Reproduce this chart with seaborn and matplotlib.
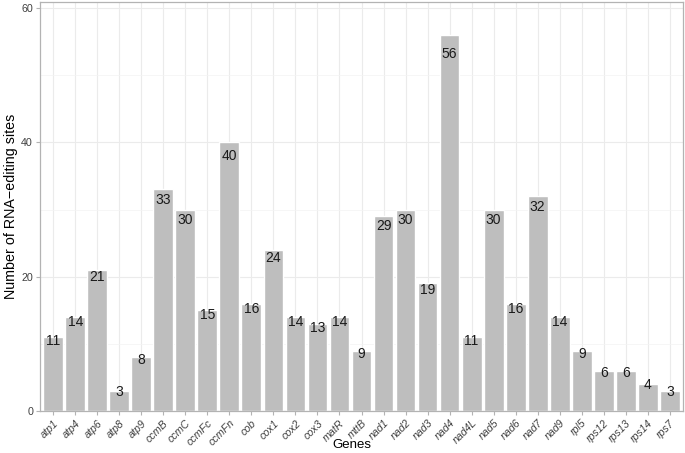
import pandas as pd
import matplotlib
matplotlib.use('Agg')
import matplotlib.pyplot as plt
import seaborn as sns

# Data
genes = ['atp1', 'atp4', 'atp6', 'atp8', 'atp9', 'ccmB', 'ccmC', 'ccmFc', 'ccmFn', 'cob',
         'cox1', 'cox2', 'cox3', 'matR', 'mttB', 'nad1', 'nad2', 'nad3', 'nad4', 'nad4L',
         'nad5', 'nad6', 'nad7', 'nad9', 'rpl5', 'rps12', 'rps13', 'rps14', 'rps7']
sites = [11, 14, 21, 3, 8, 33, 30, 15, 40, 16,
         24, 14, 13, 14, 9, 29, 30, 19, 56, 11,
         30, 16, 32, 14, 9, 6, 6, 4, 3]

df = pd.DataFrame({'gene': genes, 'sites': sites})

sns.set_style('white')
plt.rcParams['font.family'] = ['Liberation Sans', 'DejaVu Sans']

fig = plt.figure(figsize=(6.85, 4.53), dpi=100)
ax = fig.add_axes([40 / 685, 1 - 411 / 453, 643 / 685, 409 / 453])

sns.barplot(data=df, x='gene', y='sites', color='#BEBEBE', saturation=1,
            width=0.9, ax=ax, zorder=2)

# count labels placed at 95% of the bar height
for i, v in enumerate(sites):
    ax.text(i, v * 0.95, str(v), ha='center', va='center',
            fontsize=10, color='#1a1a1a', zorder=3)

n = len(genes)
ax.set_xlim(-0.6, n - 0.4)
ax.set_ylim(0, 60.9)
ax.set_yticks([0, 20, 40, 60])
ax.set_yticks([10, 30, 50], minor=True)
ax.grid(True, which='major', color='#EBEBEB', linewidth=0.8, zorder=0)
ax.grid(True, which='minor', axis='y', color='#F3F3F3', linewidth=0.5, zorder=0)
ax.set_axisbelow(True)

for s in ax.spines.values():
    s.set_color('#B3B3B3')
    s.set_linewidth(0.9)

ax.tick_params(axis='both', which='major', length=3, color='#B3B3B3',
               labelcolor='#404040', labelsize=7.7, bottom=True, left=True, pad=2)
ax.tick_params(axis='y', which='minor', length=0)
ax.set_xticks(range(n))
ax.set_xticklabels(genes, rotation=45, ha='right', rotation_mode='anchor',
                   fontstyle='italic')

ax.set_xlabel('Genes', fontsize=9.5, color='black')
ax.set_ylabel('Number of RNA\u2212editing sites', fontsize=10.3, color='black')
ax.xaxis.set_label_coords((352 - 40) / 643, -(438.5 - 411) / 409)
ax.yaxis.set_label_coords(-(40 - 18) / 643, 0.5)

fig.savefig('out.png', dpi=100)
